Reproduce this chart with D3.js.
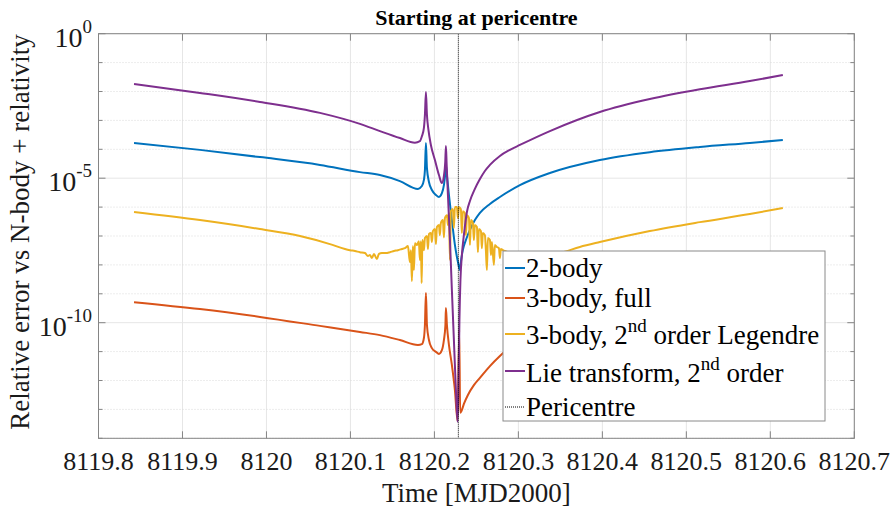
<!DOCTYPE html>
<html>
<head>
<meta charset="utf-8">
<script src="https://cdn.jsdelivr.net/npm/d3@7"></script>
<style>
  body { margin: 0; background: #fff; }
  svg text { font-family: "Liberation Serif", "Times New Roman", serif; }
</style>
</head>
<body>
<div id="chart"></div>
<script>
// ---- data (time in MJD2000, error given as log10 of relative error) ----
const xTicks = [8119.8, 8119.9, 8120, 8120.1, 8120.2, 8120.3, 8120.4, 8120.5, 8120.6, 8120.7];
const yTickExps = [0, -5, -10];
const pericentreTime = 8120.2285;

const seriesNames = ["2-body", "3-body, full", "3-body, 2nd order Legendre", "Lie transform, 2nd order"];
const seriesColors = ["#0072BD", "#D95319", "#EDB120", "#7E2F8E"];

const twoBody = [
  [8119.8423, -3.78], [8119.9208, -4.02], [8119.9923, -4.27], [8120.0637, -4.54], [8120.1113, -4.79],
  [8120.1351, -4.89], [8120.1589, -5.10], [8120.1804, -5.37], [8120.1851, -5.27], [8120.1875, -5.06],
  [8120.1887, -4.72], [8120.1899, -3.78], [8120.1911, -4.65], [8120.1935, -5.13], [8120.1970, -5.41],
  [8120.2018, -5.58], [8120.2054, -5.65], [8120.2089, -5.52], [8120.2113, -5.24], [8120.2131, -4.79],
  [8120.2137, -4.54], [8120.2149, -4.89], [8120.2173, -5.58], [8120.2208, -6.45], [8120.2244, -7.31],
  [8120.2280, -7.90], [8120.2304, -8.18], [8120.2315, -7.90], [8120.2339, -7.48], [8120.2375, -7.14],
  [8120.2423, -6.79], [8120.2482, -6.45], [8120.2542, -6.20], [8120.2661, -5.89], [8120.2780, -5.65],
  [8120.3018, -5.24], [8120.3375, -4.82], [8120.3970, -4.37], [8120.4565, -4.10], [8120.5161, -3.92],
  [8120.5756, -3.78], [8120.6149, -3.68]
];

const threeBodyFull = [
  [8119.8423, -9.29], [8119.9208, -9.53], [8119.9923, -9.80], [8120.0637, -10.11], [8120.1113, -10.32],
  [8120.1351, -10.43], [8120.1589, -10.60], [8120.1804, -10.77], [8120.1851, -10.74], [8120.1875, -10.53],
  [8120.1887, -10.08], [8120.1899, -8.97], [8120.1911, -10.08], [8120.1935, -10.60], [8120.1970, -10.88],
  [8120.2018, -11.01], [8120.2054, -11.08], [8120.2089, -10.95], [8120.2113, -10.60], [8120.2131, -10.08],
  [8120.2137, -9.49], [8120.2149, -10.08], [8120.2173, -10.77], [8120.2208, -11.46], [8120.2244, -12.33],
  [8120.2276, -13.40], [8120.2295, -10.25], [8120.2307, -13.12], [8120.2323, -13.05], [8120.2351, -12.81],
  [8120.2399, -12.50], [8120.2470, -12.16], [8120.2542, -11.91], [8120.2661, -11.50], [8120.2780, -11.15],
  [8120.2899, -10.84], [8120.3018, -10.60], [8120.3375, -10.08], [8120.3970, -9.63], [8120.4565, -9.39],
  [8120.5161, -9.22], [8120.6149, -9.01]
];

const threeBodyLegendre = [
  [8119.8423, -6.17], [8119.9208, -6.45], [8119.9923, -6.76], [8120.0399, -7.00], [8120.0756, -7.28],
  [8120.0935, -7.45], [8120.0994, -7.49], [8120.1054, -7.52], [8120.1113, -7.56], [8120.1173, -7.59],
  [8120.1208, -7.69], [8120.1232, -7.66], [8120.1256, -7.76], [8120.1280, -7.62], [8120.1315, -7.80],
  [8120.1339, -7.62], [8120.1375, -7.59], [8120.1423, -7.59], [8120.1470, -7.56], [8120.1518, -7.52],
  [8120.1565, -7.49], [8120.1613, -7.45], [8120.1649, -7.42], [8120.1685, -7.35], [8120.1708, -7.90],
  [8120.1720, -7.49], [8120.1732, -8.56], [8120.1744, -7.35], [8120.1756, -8.18], [8120.1768, -7.25],
  [8120.1792, -7.31], [8120.1815, -7.18], [8120.1827, -7.83], [8120.1839, -7.18], [8120.1848, -8.63],
  [8120.1857, -7.14], [8120.1875, -7.49], [8120.1887, -7.07], [8120.1911, -7.00], [8120.1923, -7.45],
  [8120.1935, -6.93], [8120.1958, -6.90], [8120.1970, -7.21], [8120.1982, -6.83], [8120.2006, -6.76],
  [8120.2018, -7.28], [8120.2030, -6.69], [8120.2054, -6.62], [8120.2065, -6.97], [8120.2077, -6.55],
  [8120.2101, -6.45], [8120.2113, -7.05], [8120.2125, -6.38], [8120.2149, -6.28], [8120.2161, -6.62],
  [8120.2173, -6.18], [8120.2185, -7.83], [8120.2196, -6.14], [8120.2220, -6.07], [8120.2232, -6.72],
  [8120.2244, -6.00], [8120.2268, -6.00], [8120.2280, -6.38], [8120.2292, -6.00], [8120.2315, -6.07],
  [8120.2327, -6.90], [8120.2339, -6.14], [8120.2363, -6.21], [8120.2375, -6.97], [8120.2387, -6.28],
  [8120.2411, -6.38], [8120.2423, -7.31], [8120.2435, -6.45], [8120.2458, -6.55], [8120.2470, -7.14],
  [8120.2482, -6.62], [8120.2506, -6.69], [8120.2518, -7.56], [8120.2530, -6.76], [8120.2554, -6.83],
  [8120.2565, -7.42], [8120.2577, -6.90], [8120.2601, -6.97], [8120.2613, -7.49], [8120.2625, -8.18],
  [8120.2637, -7.07], [8120.2661, -7.14], [8120.2673, -7.66], [8120.2685, -7.21], [8120.2708, -8.00],
  [8120.2720, -7.31], [8120.2744, -7.38], [8120.2768, -7.42], [8120.2780, -7.76], [8120.2792, -7.45],
  [8120.2815, -7.49], [8120.2839, -7.52], [8120.3018, -7.66], [8120.3256, -7.69], [8120.3494, -7.59],
  [8120.3732, -7.38], [8120.3970, -7.21], [8120.4565, -6.83], [8120.5161, -6.52], [8120.5756, -6.24],
  [8120.6149, -6.03]
];

const lieTransform = [
  [8119.8423, -1.74], [8119.9208, -2.05], [8119.9923, -2.36], [8120.0637, -2.74], [8120.1113, -3.12],
  [8120.1351, -3.37], [8120.1589, -3.61], [8120.1768, -3.77], [8120.1827, -3.72], [8120.1851, -3.55],
  [8120.1875, -3.26], [8120.1887, -2.81], [8120.1899, -2.02], [8120.1911, -2.81], [8120.1929, -3.33],
  [8120.1958, -3.85], [8120.2006, -4.37], [8120.2054, -4.89], [8120.2089, -5.17], [8120.2113, -4.92],
  [8120.2129, -4.44], [8120.2137, -3.89], [8120.2146, -4.54], [8120.2161, -5.58], [8120.2185, -7.14],
  [8120.2208, -8.87], [8120.2232, -10.60], [8120.2256, -12.33], [8120.2276, -13.43], [8120.2288, -11.98],
  [8120.2298, -9.91], [8120.2310, -8.52], [8120.2327, -7.66], [8120.2351, -6.97], [8120.2387, -6.17],
  [8120.2423, -5.79], [8120.2482, -5.37], [8120.2542, -5.03], [8120.2601, -4.75], [8120.2661, -4.54],
  [8120.2780, -4.23], [8120.2899, -4.02], [8120.3018, -3.85], [8120.3375, -3.37], [8120.3970, -2.71],
  [8120.4565, -2.26], [8120.5161, -1.92], [8120.5756, -1.64], [8120.6149, -1.43]
];

const allSeries = [twoBody, threeBodyFull, threeBodyLegendre, lieTransform];

// ---- layout ----
const width = 892, height = 511;
const plot = { left: 98.5, right: 854.3, top: 33.7, bottom: 438.3 };

const svg = d3.select("#chart").append("svg")
  .attr("width", width).attr("height", height);

const x = d3.scaleLinear().domain([8119.8, 8120.7]).range([plot.left, plot.right]);
const y = d3.scaleLog().domain([1e-14, 1]).range([plot.bottom, plot.top]);

const decades = d3.range(-14, 1);

// grid
const grid = svg.append("g");
grid.selectAll(".vg").data(xTicks).join("line")
  .attr("x1", d => x(d)).attr("x2", d => x(d))
  .attr("y1", plot.top).attr("y2", plot.bottom)
  .attr("stroke", "#e6e6e6").attr("stroke-width", 1);
grid.selectAll(".hg").data(decades).join("line")
  .attr("x1", plot.left).attr("x2", plot.right)
  .attr("y1", d => y(Math.pow(10, d))).attr("y2", d => y(Math.pow(10, d)))
  .attr("stroke", d => yTickExps.includes(d) ? "#e6e6e6" : "#dadada")
  .attr("stroke-dasharray", d => yTickExps.includes(d) ? null : "1,2")
  .attr("stroke-width", 1);

// curves
svg.append("clipPath").attr("id", "clip").append("rect")
  .attr("x", plot.left).attr("y", plot.top)
  .attr("width", plot.right - plot.left).attr("height", plot.bottom - plot.top);

const line = d3.line()
  .x(d => x(d[0]))
  .y(d => y(Math.pow(10, d[1])))
  .curve(d3.curveMonotoneX);

const curves = svg.append("g").attr("clip-path", "url(#clip)");
curves.selectAll("path.series").data(allSeries).join("path")
  .attr("class", "series")
  .attr("d", line)
  .attr("fill", "none")
  .attr("stroke", (d, i) => seriesColors[i])
  .attr("stroke-width", 2)
  .attr("stroke-linejoin", "round");

// pericentre marker
curves.append("line")
  .attr("x1", x(pericentreTime)).attr("x2", x(pericentreTime))
  .attr("y1", plot.top).attr("y2", plot.bottom)
  .attr("stroke", "#000").attr("stroke-width", 1)
  .attr("stroke-dasharray", "1,1");

// axes frame and ticks
const axisColor = "#858585";
const frame = svg.append("g");
const tickLen = 7, minorLen = 4;

frame.selectAll(".xtb").data(xTicks).join("line")
  .attr("x1", d => x(d)).attr("x2", d => x(d))
  .attr("y1", plot.bottom).attr("y2", plot.bottom - tickLen)
  .attr("stroke", axisColor);
frame.selectAll(".xtt").data(xTicks).join("line")
  .attr("x1", d => x(d)).attr("x2", d => x(d))
  .attr("y1", plot.top).attr("y2", plot.top + tickLen)
  .attr("stroke", axisColor);

[plot.left, plot.right].forEach((px, k) => {
  const dir = k === 0 ? 1 : -1;
  frame.selectAll(".yt" + k).data(decades).join("line")
    .attr("x1", px)
    .attr("x2", d => px + dir * (yTickExps.includes(d) ? tickLen : minorLen))
    .attr("y1", d => y(Math.pow(10, d))).attr("y2", d => y(Math.pow(10, d)))
    .attr("stroke", axisColor);
});

frame.append("rect")
  .attr("x", plot.left).attr("y", plot.top)
  .attr("width", plot.right - plot.left).attr("height", plot.bottom - plot.top)
  .attr("fill", "none").attr("stroke", axisColor).attr("stroke-width", 1);

// tick labels
const labels = svg.append("g").attr("fill", "#1a1a1a");
labels.selectAll(".xl").data(xTicks).join("text")
  .attr("x", d => x(d)).attr("y", 470)
  .attr("text-anchor", "middle")
  .attr("font-size", 26)
  .text(d => d3.format("")(d));

const yl = labels.selectAll(".yl").data(yTickExps).join("text")
  .attr("x", 92).attr("y", d => y(Math.pow(10, d)) + 13)
  .attr("text-anchor", "end")
  .attr("font-size", 28);
yl.append("tspan").text("10");
yl.append("tspan").attr("font-size", 19).attr("dy", -14).text(d => String(d));

// axis titles
labels.append("text")
  .attr("x", (plot.left + plot.right) / 2).attr("y", 502)
  .attr("text-anchor", "middle").attr("font-size", 27)
  .text("Time [MJD2000]");
labels.append("text")
  .attr("transform", `translate(29,${(plot.top + plot.bottom) / 2 - 4}) rotate(-90)`)
  .attr("text-anchor", "middle").attr("font-size", 27)
  .text("Relative error vs N-body + relativity");
labels.append("text")
  .attr("x", (plot.left + plot.right) / 2).attr("y", 25)
  .attr("text-anchor", "middle").attr("font-size", 22).attr("font-weight", "bold")
  .attr("fill", "#000")
  .text("Starting at pericentre");

// legend
const legendRows = [
  { label: [["2-body"]], color: seriesColors[0], y: 268, base: 277 },
  { label: [["3-body, full"]], color: seriesColors[1], y: 298, base: 307 },
  { label: [["3-body, 2"], ["nd", true], [" order Legendre"]], color: seriesColors[2], y: 334, base: 344 },
  { label: [["Lie transform, 2"], ["nd", true], [" order"]], color: seriesColors[3], y: 371, base: 382 },
  { label: [["Pericentre"]], color: "#000", y: 407, base: 416, dotted: true }
];

const legend = svg.append("g");
legend.append("rect")
  .attr("x", 503).attr("y", 251).attr("width", 322).attr("height", 170)
  .attr("fill", "#fff").attr("stroke", "#8a8a8a").attr("stroke-width", 1);

const rows = legend.selectAll(".row").data(legendRows).join("g");
rows.append("line")
  .attr("x1", 505).attr("x2", 525)
  .attr("y1", d => d.y).attr("y2", d => d.y)
  .attr("stroke", d => d.color)
  .attr("stroke-width", d => d.dotted ? 1 : 2)
  .attr("stroke-dasharray", d => d.dotted ? "1,1" : null);
rows.append("text")
  .attr("x", 526).attr("y", d => d.base)
  .attr("font-size", 27)
  .attr("fill", "#000")
  .each(function(d) {
    const t = d3.select(this);
    let up = false;
    d.label.forEach(([s, sup]) => {
      const sp = t.append("tspan").text(s);
      if (sup) { sp.attr("font-size", 19).attr("dy", -12); up = true; }
      else if (up) { sp.attr("dy", 12); up = false; }
    });
  });
</script>
</body>
</html>
